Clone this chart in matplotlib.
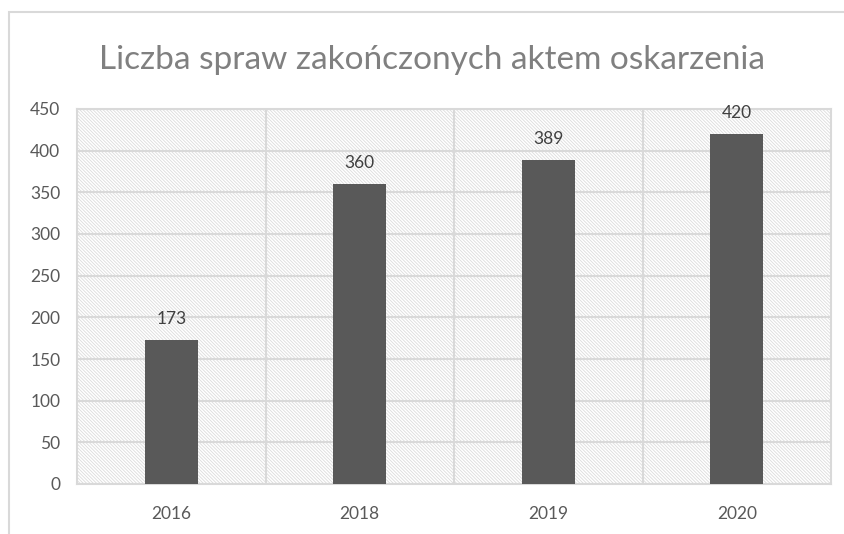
import matplotlib
matplotlib.use('Agg')
import matplotlib.pyplot as plt
from matplotlib.patches import Rectangle

years = ['2016', '2018', '2019', '2020']
cases = [173, 360, 389, 420]
yticks = [0, 50, 100, 150, 200, 250, 300, 350, 400, 450]
title = 'Liczba spraw zakończonych aktem oskarzenia'

plt.rcParams['font.family'] = ['Lato', 'DejaVu Sans']
plt.rcParams['hatch.linewidth'] = 0.6

GRID = '#d9d9d9'
TEXT = '#595959'

fig = plt.figure(figsize=(8.45, 5.34), dpi=100)
ax = fig.add_axes([77 / 845, 1 - 484 / 534, (831 - 77) / 845, (484 - 109) / 534])

# outer chart border (cut off on right and bottom, like the source)
fig.patches.append(Rectangle((9 / 845, -0.1), 1.2, 1 - 12 / 534 + 0.1,
                             transform=fig.transFigure, fill=False,
                             edgecolor=GRID, lw=1.5))

# hatched plot area
ax.add_patch(Rectangle((0, 0), 1, 1, transform=ax.transAxes, facecolor='white',
                       edgecolor='#dcdcdc', hatch='\\' * 10, lw=0, zorder=0))

x = range(len(years))
bars = ax.bar(x, cases, width=0.28, color='#595959', zorder=3)
for xi, v in zip(x, cases):
    ax.annotate(str(v), (xi, v), xytext=(0, 9), textcoords='offset points',
                ha='center', va='bottom', fontsize=12.5, color='#404040')

ax.set_xlim(-0.5, len(years) - 0.5)
ax.set_ylim(0, 450)
ax.set_yticks(yticks)
ax.set_xticks(list(x))
ax.set_xticklabels(years)
ax.set_xticks([0.5, 1.5, 2.5], minor=True)
ax.tick_params(axis='both', which='both', length=0, labelsize=12.5, labelcolor=TEXT)
ax.tick_params(axis='x', pad=16)
ax.tick_params(axis='y', pad=12)
ax.grid(axis='y', color=GRID, lw=1.5, zorder=1)
ax.grid(axis='x', which='minor', color=GRID, lw=1.5, zorder=1)
ax.grid(axis='x', which='major', visible=False)
ax.set_axisbelow(True)
for s in ax.spines.values():
    s.set_color(GRID)
    s.set_linewidth(1.5)

fig.text(432 / 845, 1 - 60 / 534, title, ha='center', va='center',
         fontsize=24, color='#808080')

fig.savefig('out.png', dpi=100)
